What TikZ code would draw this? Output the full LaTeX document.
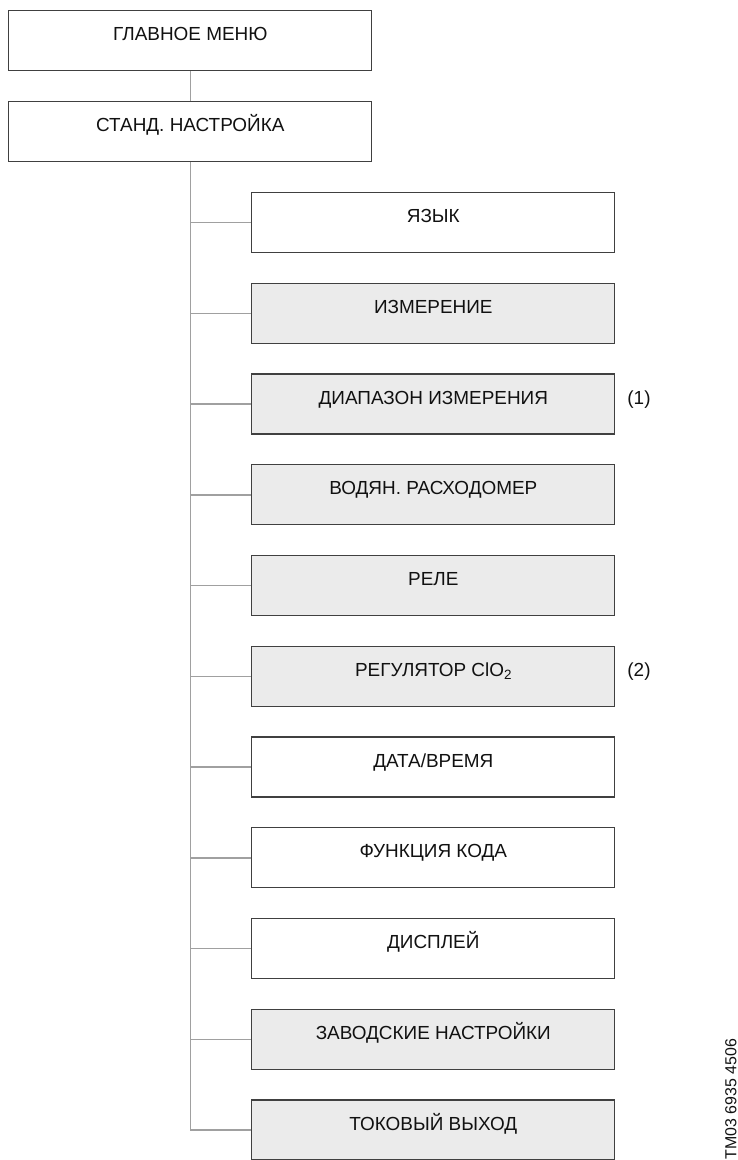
\documentclass[tikz,border=0pt]{standalone}
\usepackage{fontspec}
\setmainfont{Liberation Sans}
\definecolor{boxgray}{HTML}{EBEBEB}
\definecolor{edge}{HTML}{404040}
\definecolor{conn}{HTML}{A0A0A0}
\definecolor{txt}{HTML}{111111}
\begin{document}
\begin{tikzpicture}[x=1bp,y=-1bp,
  menubox/.style={draw=edge, line width=1.2bp, rectangle, minimum width=363bp, minimum height=60bp,
    inner sep=0pt, text=txt, font=\fontsize{19}{21}\selectfont, text height=13.6bp, text depth=13.2bp},
  whitebox/.style={menubox, fill=white},
  graybox/.style={menubox, fill=boxgray},
  note/.style={inner sep=0pt, text=txt, font=\fontsize{19}{21}\selectfont, text height=13.6bp, text depth=13.2bp},
  link/.style={draw=conn, line width=1.5bp}]
\useasboundingbox (0,0) rectangle (738,1160);
\clip (0,0) rectangle (738,1160);
\newcommand{\subtwo}{{\fontsize{13.5}{13.5}\selectfont\raisebox{-3.5bp}{2}}}
\node[whitebox] (main) at (190.3,40.7) {ГЛАВНОЕ МЕНЮ};
\node[whitebox] (std) at (190.3,131.3) {СТАНД. НАСТРОЙКА};
\node[whitebox] (c0) at (433.3,222.5) {ЯЗЫК};
\node[graybox] (c1) at (433.3,313.25) {ИЗМЕРЕНИЕ};
\node[graybox] (c2) at (433.3,404.0) {ДИАПАЗОН ИЗМЕРЕНИЯ};
\node[graybox] (c3) at (433.3,494.75) {ВОДЯН. РАСХОДОМЕР};
\node[graybox] (c4) at (433.3,585.5) {РЕЛЕ};
\node[graybox] (c5) at (433.3,676.25) {РЕГУЛЯТОР ClO\subtwo};
\node[whitebox] (c6) at (433.3,767.0) {ДАТА/ВРЕМЯ};
\node[whitebox] (c7) at (433.3,857.75) {ФУНКЦИЯ КОДА};
\node[whitebox] (c8) at (433.3,948.5) {ДИСПЛЕЙ};
\node[graybox] (c9) at (433.3,1039.25) {ЗАВОДСКИЕ НАСТРОЙКИ};
\node[graybox] (c10) at (433.3,1130.0) {ТОКОВЫЙ ВЫХОД};
\node[note] (n1) at (639,404.0) {(1)};
\node[note] (n2) at (639,676.25) {(2)};
\node[rotate=90, inner sep=0pt, text=txt, font=\fontsize{16}{18}\selectfont] (code) at (731,1099) {TM03 6935 4506};
\draw[link] (main.south) -- (std.north);
\coordinate (corner) at (std.south |- c10.west);
\draw[link] (std.south) -- (corner) -- (c10.west);
\foreach \c in {c0,c1,c2,c3,c4,c5,c6,c7,c8,c9}{
  \draw[link] (std.south |- \c.west) -- (\c.west);
}
\end{tikzpicture}
\end{document}
